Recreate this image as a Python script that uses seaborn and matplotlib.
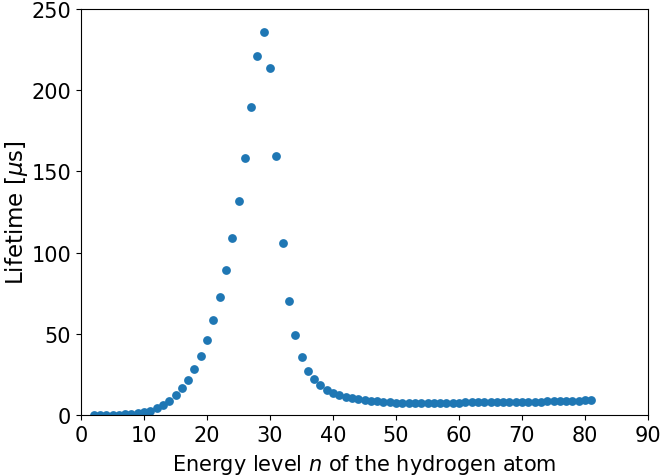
import numpy as np
import pandas as pd
import seaborn as sns
import matplotlib.pyplot as plt

# energy levels n = 2 .. 81
levels = list(range(2, 82))

# lifetime in microseconds
lifetime = [
    0.02, 0.05, 0.1, 0.2, 0.3, 0.5, 0.8, 1.2, 1.8,          # n = 2..10
    2.7, 4.1, 6.2, 8.8, 12.1, 16.4, 21.7, 28.3, 36.3, 46.4,  # n = 11..20
    58.5, 72.5, 89.5, 109.2, 131.8, 158.0, 189.5, 220.8, 235.6, 213.9,  # n = 21..30
    159.5, 106.1, 70.4, 49.1, 35.7, 27.3, 22.1, 18.3, 15.7, 13.5,  # n = 31..40
    12.1, 10.9, 10.3, 9.7, 9.0, 8.8, 8.6, 8.2, 7.8, 7.6,     # n = 41..50
    7.6, 7.6, 7.6, 7.6, 7.6, 7.6, 7.6, 7.6, 7.6, 7.6,        # n = 51..60
    7.7, 7.7, 7.7, 7.8, 7.8, 7.9, 7.9, 8.0, 8.0, 8.1,        # n = 61..70
    8.2, 8.3, 8.3, 8.4, 8.5, 8.6, 8.7, 8.8, 8.9, 9.0, 9.1,   # n = 71..81
]

df = pd.DataFrame({'n': levels, 'lifetime': lifetime})

fig = plt.figure(figsize=(6.61, 4.77), dpi=100)
ax = fig.add_axes([81 / 661, 1 - 416 / 477, (648 - 81) / 661, (416 - 10) / 477])
sns.scatterplot(data=df, x='n', y='lifetime', color='#1f77b4', s=40, linewidth=0, ax=ax)

ax.set_xlim(0, 90)
ax.set_ylim(0, 250)
ax.set_xticks(np.arange(0, 91, 10))
ax.set_yticks(np.arange(0, 251, 50))
ax.tick_params(labelsize=15)
ax.set_xlabel('Energy level $n$ of the hydrogen atom', fontsize=15, labelpad=5)
ax.set_ylabel(r'Lifetime [$\mu$s]', fontsize=16.5, labelpad=1)

fig.savefig('out.png', dpi=100)
